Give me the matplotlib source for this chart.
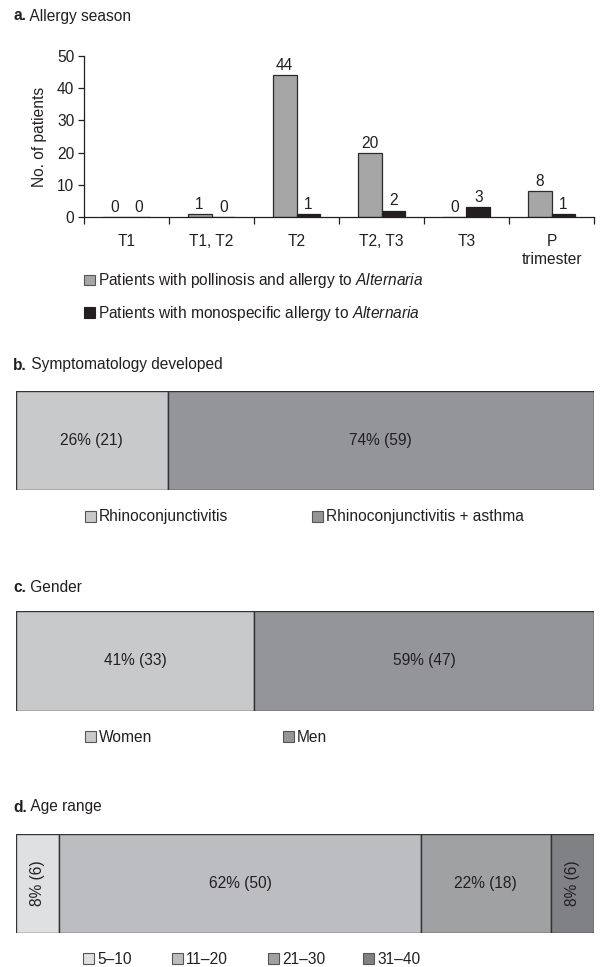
import numpy as np
import matplotlib.pyplot as plt
from matplotlib.patches import Patch

plt.rcParams['font.family'] = ['Liberation Sans', 'DejaVu Sans']
plt.rcParams['mathtext.fontset'] = 'custom'
plt.rcParams['mathtext.it'] = 'Liberation Sans:italic'
plt.rcParams['mathtext.rm'] = 'Liberation Sans'
FS = 11.2
plt.rcParams['font.size'] = FS

# a. Allergy season
seasons = ['T1', 'T1, T2', 'T2', 'T2, T3', 'T3', 'P\ntrimester']
pollinosis = [0, 1, 44, 20, 0, 8]
monospecific = [0, 0, 1, 2, 3, 1]
series_labels = ['Patients with pollinosis and allergy to $\\it{Alternaria}$',
                 'Patients with monospecific allergy to $\\it{Alternaria}$']

# b. Symptomatology
sympt_labels = ['Rhinoconjunctivitis', 'Rhinoconjunctivitis + asthma']
sympt_counts = [21, 59]
sympt_pct = [26, 74]

# c. Gender
gender_labels = ['Women', 'Men']
gender_counts = [33, 47]
gender_pct = [41, 59]

# d. Age range
age_labels = ['5\u201310', '11\u201320', '21\u201330', '31\u201340']
age_counts = [6, 50, 18, 6]
age_pct = [8, 62, 22, 8]

W, H = 604, 967
fig = plt.figure(figsize=(W / 100, H / 100), dpi=100)
txt = '#231f20'
edge = '#333333'


def fx(px):
    return px / W


def fy(py):
    return 1 - py / H


def title(label, rest, y):
    t = fig.text(fx(13), fy(y), label, fontweight='bold', fontsize=FS,
                 va='center', ha='left', color=txt)
    plt.annotate(' ' + rest, xy=(1, 0.5), xycoords=t, va='center', ha='left',
                 fontsize=FS, color=txt)


def legend_row(labels, colors, xs, y):
    for lab, col, x in zip(labels, colors, xs):
        fig.legend(handles=[Patch(facecolor=col, edgecolor='#555555', linewidth=0.8)],
                   labels=[lab], loc='center left',
                   bbox_to_anchor=(fx(x), fy(y)), bbox_transform=fig.transFigure,
                   frameon=False, borderpad=0, borderaxespad=0,
                   handlelength=0.7, handleheight=0.7, handletextpad=0.2,
                   fontsize=FS, labelcolor=txt)


# ---- panel a
ax = fig.add_axes([fx(84), fy(217), fx(594) - fx(84), fy(56) - fy(217)])
x = np.arange(len(seasons))
w = 0.28
b1 = ax.bar(x - w / 2, pollinosis, w, color='#a6a6a6', edgecolor='#2b2b2b', linewidth=0.9)
b2 = ax.bar(x + w / 2, monospecific, w, color='#231f20', edgecolor='#231f20', linewidth=0.9)
for bars in (b1, b2):
    for r in bars:
        ax.annotate(f'{int(r.get_height())}', (r.get_x() + r.get_width() / 2, r.get_height()),
                    xytext=(0, 1.5), textcoords='offset points', ha='center', va='bottom',
                    fontsize=FS, color=txt)
ax.set_xlim(-0.5, len(seasons) - 0.5)
ax.set_ylim(0, 50)
ax.set_yticks([0, 10, 20, 30, 40, 50])
ax.set_xticks(x)
ax.set_xticklabels(seasons, color=txt, linespacing=1.25)
ax.set_xticks(np.arange(-0.5, len(seasons)), minor=True)
ax.tick_params(axis='x', which='major', length=0, pad=12)
ax.tick_params(axis='x', which='minor', length=5, color='#231f20', width=0.9)
ax.tick_params(axis='y', length=4, color='#231f20', width=0.9, labelcolor=txt, pad=3)
ax.tick_params(axis='both', labelsize=FS)
for s in ('top', 'right'):
    ax.spines[s].set_visible(False)
for s in ('left', 'bottom'):
    ax.spines[s].set_color('#231f20')
    ax.spines[s].set_linewidth(0.9)
ax.set_ylabel('No. of patients', fontsize=FS, color=txt, labelpad=7)

title('a.', 'Allergy season', 16)
fig.legend(handles=[Patch(facecolor='#a6a6a6', edgecolor='#555555', linewidth=0.8),
                    Patch(facecolor='#231f20', edgecolor='#231f20', linewidth=0.8)],
           labels=series_labels, loc='center left',
           bbox_to_anchor=(fx(84), fy(297)), bbox_transform=fig.transFigure,
           frameon=False, borderpad=0, borderaxespad=0, labelspacing=0.85,
           handlelength=0.7, handleheight=0.7, handletextpad=0.2,
           fontsize=FS, labelcolor=txt)


# ---- stacked boxes
def stacked(top, bottom, counts, pct, colors, rotate_small=False):
    axb = fig.add_axes([fx(16), fy(bottom), fx(594) - fx(16), fy(top) - fy(bottom)])
    total = sum(counts)
    left = 0
    for c, p, col in zip(counts, pct, colors):
        axb.barh(0, c, left=left, height=1, color=col, edgecolor=edge, linewidth=1)
        rot = 90 if (rotate_small and p < 10) else 0
        axb.text(left + c / 2, 0, f'{p}% ({c})', ha='center', va='center',
                 rotation=rot, fontsize=FS, color=txt)
        left += c
    axb.set_xlim(0, total)
    axb.set_ylim(-0.5, 0.5)
    axb.axis('off')
    return axb


sympt_colors = ['#c8c9cb', '#939598']
title('b.', 'Symptomatology developed', 365)
stacked(391, 490, sympt_counts, sympt_pct, sympt_colors)
legend_row(sympt_labels, sympt_colors, [85, 312], 517)

gender_colors = ['#c8c9cb', '#939598']
title('c.', 'Gender', 588)
stacked(611, 711, gender_counts, gender_pct, gender_colors)
legend_row(gender_labels, gender_colors, [85, 283], 737)

age_colors = ['#dfe0e1', '#bcbdc0', '#a0a1a3', '#808184']
title('d.', 'Age range', 807)
stacked(834, 933, age_counts, age_pct, age_colors, rotate_small=True)
legend_row(age_labels, age_colors, [83, 172, 268, 363], 959)

fig.savefig('out.png', dpi=100, facecolor='white')
